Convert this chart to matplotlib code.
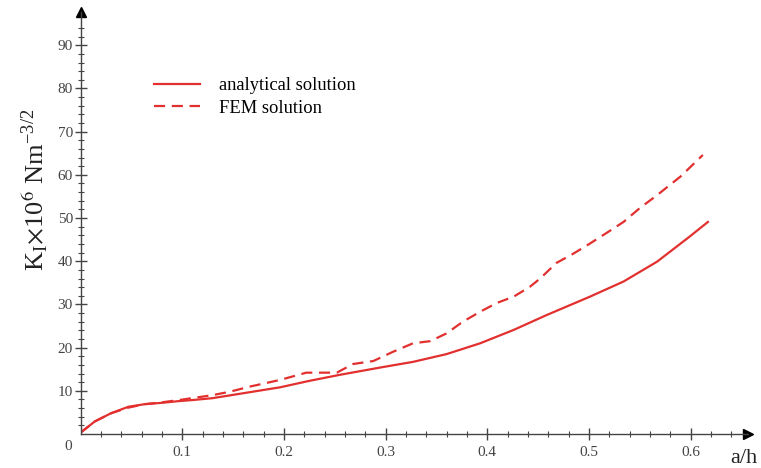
import matplotlib
matplotlib.use('Agg')
import matplotlib.pyplot as plt
import numpy as np

# a/h y K_I (x10^6 N m^-3/2)
ah_anal = [0.0, 0.014, 0.030, 0.047, 0.063, 0.079, 0.096, 0.112, 0.13, 0.196,
           0.225, 0.255, 0.295, 0.327, 0.36, 0.393, 0.426, 0.458, 0.47,
           0.501, 0.534, 0.567, 0.599, 0.617]
K_anal = [0.3, 2.9, 4.8, 6.3, 6.9, 7.2, 7.6, 7.9, 8.3, 10.8,
          12.3, 13.7, 15.4, 16.7, 18.5, 21.0, 24.1, 27.5, 28.7,
          31.8, 35.3, 39.9, 45.7, 49.1]

ah_fem = [0.0, 0.014, 0.030, 0.047, 0.063, 0.079, 0.098, 0.13, 0.147, 0.167,
          0.196, 0.222, 0.252, 0.268, 0.288, 0.307, 0.327, 0.344, 0.36, 0.376,
          0.393, 0.409, 0.426, 0.442, 0.452, 0.468, 0.485, 0.501, 0.517, 0.534,
          0.550, 0.567, 0.590, 0.612]
K_fem = [0.3, 2.9, 4.8, 6.1, 6.9, 7.3, 7.9, 9.0, 9.8, 11.0,
         12.5, 14.2, 14.2, 16.2, 16.9, 19.0, 21.0, 21.5, 23.3, 26.0,
         28.3, 30.3, 31.8, 34.1, 36.0, 39.6, 41.8, 44.1, 46.5, 49.1,
         52.3, 55.3, 59.6, 64.6]

rojo = '#e2302f'
gris = '#444444'

plt.rcParams['font.family'] = ['Liberation Serif', 'DejaVu Serif']
plt.rcParams['mathtext.fontset'] = 'stix'

fig = plt.figure(figsize=(7.61, 4.68), dpi=100)
ax = fig.add_axes([80.5/761, 34/468, 667.5/761, 422/468])

ax.plot(ah_anal, K_anal, '-', color=rojo, lw=1.6, label='analytical solution')
ax.plot(ah_fem, K_fem, '--', color=rojo, lw=1.6, dashes=(5, 3), label='FEM solution')

ax.set_xlim(0, 0.6564)
ax.set_ylim(0, 97.7)

for s in ['top', 'right']:
    ax.spines[s].set_visible(False)
for s in ['left', 'bottom']:
    ax.spines[s].set_color(gris)
    ax.spines[s].set_linewidth(1.0)

# flechas de los ejes
ax.plot(1, 0, '>', color='black', ms=7, transform=ax.transAxes, clip_on=False)
ax.plot(0, 1, '^', color='black', ms=7, transform=ax.transAxes, clip_on=False)

ax.set_xticks(np.arange(0.1, 0.61, 0.1))
ax.set_xticks(np.arange(0.02, 0.65, 0.02), minor=True)
ax.set_yticks(np.arange(10, 91, 10))
ax.set_yticks(np.arange(2, 96, 2), minor=True)
ax.set_xticklabels(['0.1', '0.2', '0.3', '0.4', '0.5', '0.6'])
ax.tick_params(which='major', direction='inout', length=8, width=1.0, color=gris,
               labelsize=11, labelcolor=gris)
ax.tick_params(which='minor', direction='inout', length=5, width=0.8, color=gris)
ax.tick_params(axis='y', which='major', pad=1.5)
ax.tick_params(axis='x', which='major', pad=5)

ax.text(-0.018, -0.03, '0', transform=ax.transAxes, fontsize=11, color=gris,
        ha='center', va='center')
ax.text(0.994, -0.057, 'a/h', transform=ax.transAxes, fontsize=16, color='#222222',
        ha='center', va='center')

fig.text(35/761, 1 - 190/468, r'K$_\mathregular{I}$$\times$10$^6$ Nm$^{\mathregular{-3/2}}$',
         rotation=90, fontsize=19, color='#222222', ha='center', va='center')

ax.legend(loc='upper left', bbox_to_anchor=(0.085, 0.885), frameon=False,
          fontsize=13.3, handlelength=2.5, handletextpad=1.0, labelspacing=0.3)

plt.savefig('out.png', dpi=100)
